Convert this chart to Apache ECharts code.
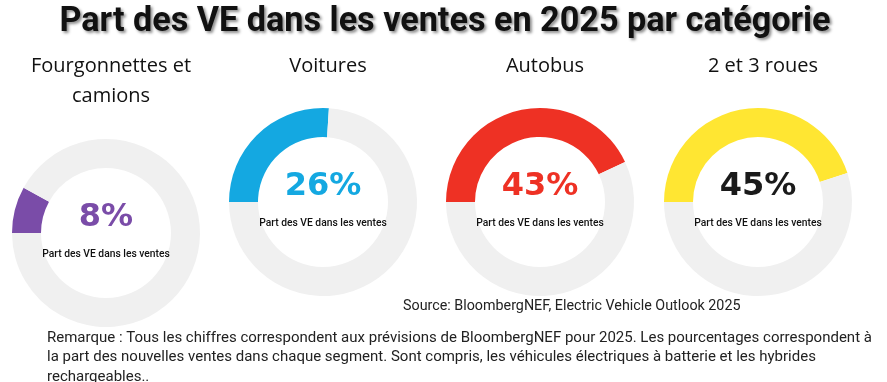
<!DOCTYPE html>
<html>
<head>
<meta charset="utf-8">
<script src="https://cdn.jsdelivr.net/npm/echarts@6/dist/echarts.min.js"></script>
<style>
html,body{margin:0;padding:0;background:#fff;}
#chart{width:887px;height:382px;}
</style>
</head>
<body>
<div id="chart"></div>
<script>
// ---- Data ----
const mainTitle = 'Part des VE dans les ventes en 2025 par catégorie';
const categories = ['Fourgonnettes et\ncamions', 'Voitures', 'Autobus', '2 et 3 roues'];
const evShare = [8, 26, 43, 45];
const centerLabel = 'Part des VE dans les ventes';
const sourceText = 'Source: BloombergNEF, Electric Vehicle Outlook 2025';
const noteLines = [
  'Remarque : Tous les chiffres correspondent aux prévisions de BloombergNEF pour 2025. Les pourcentages correspondent à',
  'la part des nouvelles ventes dans chaque segment. Sont compris, les véhicules électriques à batterie et les hybrides',
  'rechargeables..'
];

// ---- Styles / layout ----
const arcColors = ['#7A4CA8', '#14A8E1', '#EE3124', '#FFE632'];
const pctColors = ['#7A4CA8', '#14A8E1', '#EE3124', '#1A1A1A'];
const restColor = '#F0F0F0';
const centers = [[106, 233], [323, 202], [540, 202], [758, 202]];

const chart = echarts.init(document.getElementById('chart'), null, {renderer: 'canvas'});

const titles = [{
  text: mainTitle,
  left: 440, top: 0, textAlign: 'center',
  textStyle: {
    fontFamily: 'Roboto', fontWeight: 'bold', fontSize: 34.2, color: '#111',
    textShadowColor: 'rgba(0,0,0,0.45)', textShadowBlur: 3,
    textShadowOffsetX: 2, textShadowOffsetY: 2
  }
}];
categories.forEach((c, i) => {
  titles.push({
    text: c, left: centers[i][0], top: 46, textAlign: 'center',
    textStyle: {fontFamily: 'Open Sans', fontWeight: 500, fontSize: 20, color: '#111', lineHeight: 30}
  });
});
titles.push({
  text: sourceText, left: 398, top: 294,
  textStyle: {fontFamily: 'Roboto', fontWeight: 'normal', fontSize: 14.3, color: '#222'}
});
titles.push({
  text: noteLines.join('\n'), left: 42, top: 323,
  textStyle: {fontFamily: 'Roboto', fontWeight: 'normal', fontSize: 15, color: '#222', lineHeight: 19.5}
});

const series = evShare.map((v, i) => ({
  type: 'pie',
  center: centers[i],
  radius: [65, 94],
  startAngle: 180,
  clockwise: true,
  silent: true,
  animation: false,
  labelLine: {show: false},
  emphasis: {disabled: true},
  data: [
    {
      value: v,
      itemStyle: {color: arcColors[i]},
      label: {
        show: true, position: 'center',
        formatter: () => '{pct|' + v + '%}\n{sub|' + centerLabel + '}',
        rich: {
          pct: {fontFamily: 'DejaVu Sans', fontWeight: 'bold', fontSize: 32, color: pctColors[i], lineHeight: 42, align: 'center'},
          sub: {fontFamily: 'Roboto', fontWeight: 500, fontSize: 10.3, color: '#111', lineHeight: 30, align: 'center'}
        }
      }
    },
    {value: 100 - v, itemStyle: {color: restColor}, label: {show: false}}
  ]
}));

chart.setOption({
  backgroundColor: '#fff',
  animation: false,
  title: titles,
  series: series
});
</script>
</body>
</html>
